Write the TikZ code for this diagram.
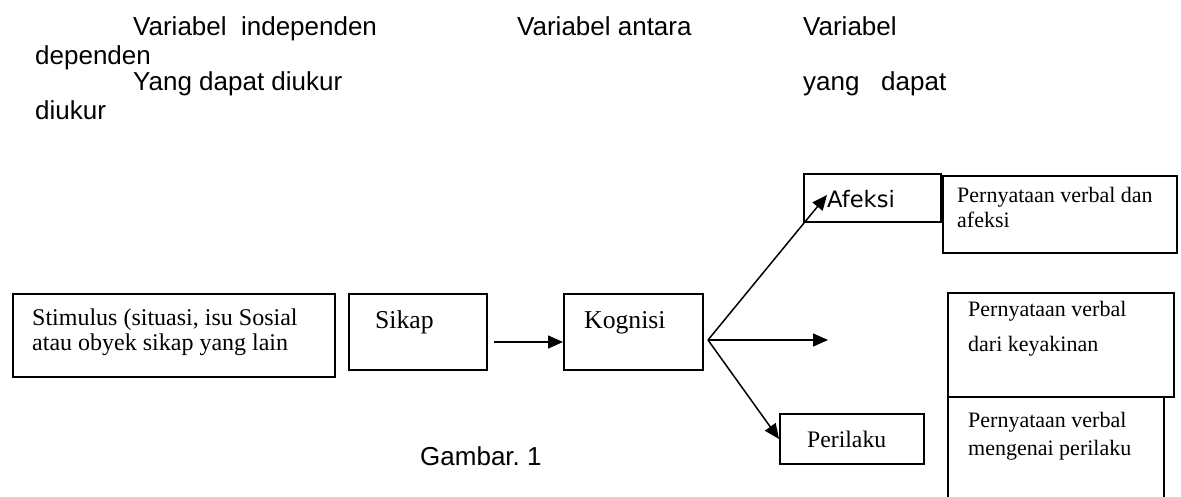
\documentclass[tikz,border=0pt]{standalone}
\usepackage{fontspec}
\setmainfont{Liberation Serif}
\newfontfamily\headfont{Liberation Sans}
\newfontfamily\afeksifont{DejaVu Sans}
\usepackage{tikz}
\usetikzlibrary{arrows.meta}

\tikzset{
  box/.style={draw, line width=2pt, inner sep=0pt, anchor=north west},
  arr/.style={line width=1.5pt, -{Triangle[length=15pt,width=13pt]}},
  head/.style={anchor=base west, inner sep=0pt, font=\headfont\fontsize{26}{30}\selectfont},
  lbl/.style={anchor=base west, inner sep=0pt, align=left},
}

\begin{document}
\frenchspacing
\begin{tikzpicture}[x=1pt,y=1pt,yscale=-1]
\clip (0,0) rectangle (1181,497);

% Header text
\node[head] (hIndep) at (133,36) {Variabel\ \ independen};
\node[head] (hAntara) at (517,36) {Variabel antara};
\node[head] (hDep) at (803,36) {Variabel};
\node[head] (hDepTail) at (35,65) {dependen};
\node[head] (hUkur) at (133,91) {Yang dapat diukur};
\node[head] (hUkur2) at (803,91) {yang\ \ \ dapat};
\node[head] (hUkurTail) at (35,120) {diukur};

%Shape: boxes
\node[box, minimum width=322pt, minimum height=83pt] (stimulus) at (12,293) {};
\node[box, minimum width=138pt, minimum height=76pt] (sikap) at (348,293) {};
\node[box, minimum width=139pt, minimum height=76pt] (kognisi) at (563,293) {};
\node[box, minimum width=137pt, minimum height=48pt] (afeksi) at (803,173) {};
\node[box, minimum width=144pt, minimum height=50pt] (perilaku) at (779,413) {};
\node[box, minimum width=234pt, minimum height=77pt] (pvAfeksi) at (942,175) {};
\node[box, minimum width=226pt, minimum height=104pt] (pvYakin) at (947,292) {};
\node[box, minimum width=216pt, minimum height=130pt] (pvPerilaku) at (947,396) {};

% Text Node (base = last line)
\node[lbl, font=\fontsize{24}{24.5}\selectfont] (stimulusText) at (32,350) {Stimulus (situasi, isu Sosial\\atau obyek sikap yang lain};
\node[lbl, font=\fontsize{25.7}{28}\selectfont] (sikapText) at (375,328) {Sikap};
\node[lbl, font=\fontsize{25.7}{28}\selectfont] (kognisiText) at (584,328) {Kognisi};
\node[lbl, font=\afeksifont\fontsize{22.6}{26}\selectfont] (afeksiText) at (827,208) {Afeksi};
\node[lbl, font=\fontsize{23.7}{26}\selectfont] (perilakuText) at (807,447) {Perilaku};
\node[lbl, font=\fontsize{22}{25}\selectfont] (pvAfeksiText) at (957,228) {Pernyataan verbal dan\\afeksi};
\node[lbl, font=\fontsize{22}{35}\selectfont] (pvYakinText) at (968,351) {Pernyataan verbal\\dari keyakinan};
\node[lbl, font=\fontsize{22}{28}\selectfont] (pvPerilakuText) at (968,455) {Pernyataan verbal\\mengenai perilaku};
\node[head] (caption) at (420,465) {Gambar. 1};

% Arrows
\coordinate (fork) at (708,340);
\coordinate (yakinTip) at (828,340);
\coordinate (afeksiTip) at (827,195);
\draw[arr] ([xshift=6pt,yshift=10pt]sikap.east) -- ([yshift=10pt]kognisi.west);
\draw[arr] (fork) -- (afeksiTip);
\draw[arr] (fork) -- (yakinTip);
\draw[arr] (fork) -- (perilaku.west);
\end{tikzpicture}
\end{document}
